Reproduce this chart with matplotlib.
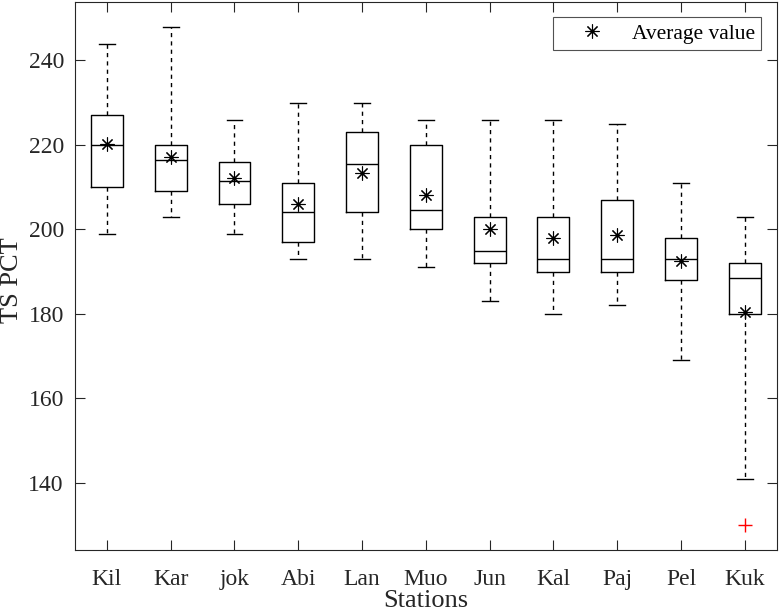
import matplotlib
matplotlib.use("Agg")
import matplotlib.pyplot as plt

stations = ["Kil", "Kar", "jok", "Abi", "Lan", "Muo", "Jun", "Kal", "Paj", "Pel", "Kuk"]
whishi = [244, 248, 226, 230, 230, 226, 226, 226, 225, 211, 203]
q3 = [227, 220, 216, 211, 223, 220, 203, 203, 207, 198, 192]
med = [220, 216.5, 211.5, 204, 215.5, 204.5, 195, 193, 193, 193, 188.5]
q1 = [210, 209, 206, 197, 204, 200, 192, 190, 190, 188, 180]
whislo = [199, 203, 199, 193, 193, 191, 183, 180, 182, 169, 141]
means = [220.2, 217.2, 212.1, 206.0, 213.4, 208.1, 200.2, 197.9, 198.6, 192.6, 180.5]
fliers = [[], [], [], [], [], [], [], [], [], [], [130]]
yticks = [140, 160, 180, 200, 220, 240]

plt.rcParams['font.family'] = ['Liberation Serif', 'DejaVu Serif']
axcol = '#262626'

W, H = 780, 613
fig = plt.figure(figsize=(7.8, 6.13), dpi=100)
ax = fig.add_axes([75/W, 63/H, (776.7-75)/W, (550-1.7)/H])

stats = []
for i in range(len(stations)):
    stats.append(dict(med=med[i], q1=q1[i], q3=q3[i], whislo=whislo[i],
                      whishi=whishi[i], fliers=fliers[i], label=stations[i]))
pos = list(range(1, len(stations) + 1))
ax.bxp(stats, positions=pos, widths=0.5, showfliers=True,
       boxprops=dict(color='black', linewidth=1.0),
       medianprops=dict(color='black', linewidth=1.0),
       whiskerprops=dict(color='black', linewidth=1.0, linestyle=(0, (3, 3))),
       capprops=dict(color='black', linewidth=1.0),
       capwidths=0.25,
       flierprops=dict(marker='+', markeredgecolor='red', markersize=10, linestyle='none'))
ax.plot(pos, means, linestyle='none', marker=(8, 2, 0), markersize=10,
        color='black', markeredgewidth=0.8, label='Average value')

ax.set_xlim(0.5, 11.5)
ax.set_ylim(124.1, 253.9)
ax.set_yticks(yticks)
ax.set_xticks(pos)
ax.set_xticklabels(stations)
ax.tick_params(direction='in', length=7, width=0.8, colors=axcol, labelcolor='#262626',
               labelsize=17, top=True, right=True, labeltop=False, labelright=False, pad=8)
ax.tick_params(axis='x', pad=14)
for s in ax.spines.values():
    s.set_color(axcol)
    s.set_linewidth(0.8)

fig.text(426/W, 1/H, 'Stations', fontsize=19, color='#262626', ha='center', va='bottom')
fig.text(12/W, (H - 280)/H, 'TS PCT', fontsize=19, color='#262626', ha='center', va='center',
         rotation=90)

leg = ax.legend(loc='upper right', fontsize=15.5, frameon=True, fancybox=False,
                edgecolor=axcol, borderpad=0.3, handlelength=3.0, handletextpad=0.35,
                borderaxespad=0.72, markerscale=1.0)
leg.get_frame().set_linewidth(0.8)

fig.savefig('out.png', dpi=100)
